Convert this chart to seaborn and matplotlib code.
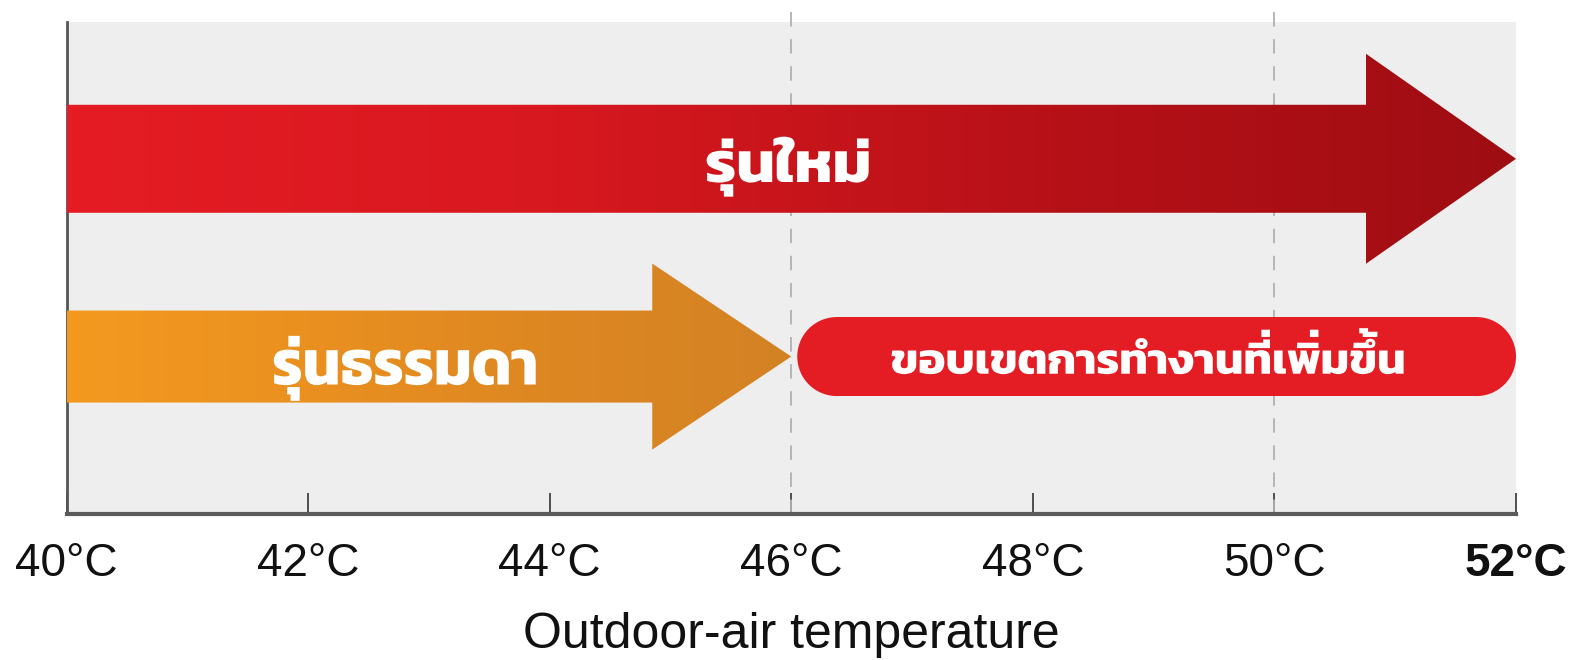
import numpy as np
import matplotlib
matplotlib.use("Agg")
import matplotlib.pyplot as plt
import seaborn as sns
from matplotlib import font_manager
from matplotlib.ft2font import FT2Font
from matplotlib.font_manager import FontProperties
from matplotlib.textpath import text_to_path
from matplotlib.path import Path
from matplotlib.transforms import Affine2D
from matplotlib.patches import Polygon, Rectangle, Ellipse, PathPatch
from matplotlib.colors import LinearSegmentedColormap

# chart data
temps = [40, 42, 44, 46, 48, 50, 52]
tick_labels = ['40°C', '42°C', '44°C', '46°C', '48°C', '50°C', '52°C']
series_names = ['รุ่นใหม่', 'รุ่นธรรมดา']
series_start = [40, 40]
series_end = [52, 46]
extra_start = 46
extra_end = 52
extra_label = 'ขอบเขตการทำงานที่เพิ่มขึ้น'
guide_temps = [46, 50]
x_label = 'Outdoor-air temperature'

PREFERRED = ['Kanit', 'Prompt', 'Noto Sans Thai', 'Sarabun', 'Waree', 'Loma', 'Garuda']
UPPER = set('\u0e31\u0e34\u0e35\u0e36\u0e37\u0e47\u0e4d')
TONES = set('\u0e48\u0e49\u0e4a\u0e4b\u0e4c')


def find_thai_font():
    found = []
    for f in font_manager.fontManager.ttflist:
        try:
            cm = FT2Font(f.fname).get_charmap()
        except Exception:
            continue
        if 0x0E01 in cm and 0x0E23 in cm and 0x0E48 in cm:
            found.append(f)
    if not found:
        return None

    def score(f):
        rank = len(PREFERRED)
        for i, p in enumerate(PREFERRED):
            if f.name == p:
                rank = i
                break
        loop = 'Looped' in f.name or 'Serif' in f.name
        return (-rank, not loop)
    found.sort(key=score, reverse=True)
    return found[0].name


def thai_text_path(s, prop, raise_units=26):
    # lay out glyphs ourselves so stacked tone marks sit above upper vowels
    font = text_to_path._get_font(prop)
    info, gmap, _ = text_to_path.get_glyphs_with_font(font, s)
    verts, codes = [], []
    prev = None
    for ch, (gid, x, y, sc) in zip(s, info):
        v, c = gmap[gid]
        v = np.asarray(v, float)
        if len(v):
            dy = raise_units if (ch in TONES and prev in UPPER) else 0
            verts.append(v * sc + [x, y + dy])
            codes.append(np.asarray(c))
        prev = ch
    return Path(np.concatenate(verts), np.concatenate(codes))


def fit_text(ax, s, xd, ya, w_px, h_px, fallback_size):
    try:
        prop = FontProperties(family=thai_family, weight='bold')
        path = thai_text_path(s, prop)
        ext = path.get_extents()
        cx = ax.transData.transform((xd, 0))[0]
        cy = ax.transAxes.transform((0, ya))[1]
        tr = (Affine2D().translate(-(ext.x0 + ext.x1) / 2, -(ext.y0 + ext.y1) / 2)
              .scale(w_px / ext.width, h_px / ext.height).translate(cx, cy))
        ax.add_patch(PathPatch(path, transform=tr, fc='white', ec='none',
                               zorder=5, clip_on=False))
    except Exception:
        ax.text(xd, ya, s, color='white', ha='center', va='center',
                transform=ax.get_xaxis_transform(), fontsize=fallback_size,
                fontweight='bold', family=thai_family, zorder=5)


sns.set_style('white')
thai_font = find_thai_font()
latin = ['Liberation Sans Narrow', 'Liberation Sans', 'DejaVu Sans']
thai_family = ([thai_font] if thai_font else []) + ['DejaVu Sans']
plt.rcParams['font.family'] = latin

fig = plt.figure(figsize=(15.82, 6.60), dpi=100)
ax = fig.add_axes([66.5 / 1582, 1 - 514 / 660, (1516 - 66.5) / 1582, (514 - 22) / 660])
ax.set_facecolor('#eeeeee')
ax.set_xlim(40, 52)
ax.set_ylim(0, 1)

bbox = ax.get_window_extent()
px_x = bbox.width / 12.0
px_y = bbox.height / 1.0

# dashed guide lines
for g in guide_temps:
    ax.plot([g, g], [0, 1.05], color='#b0b0b0', lw=1.3, ls=(0, (8, 7)),
            clip_on=False, zorder=1)

# arrows (center, half thickness, half head height, head length in px)
arrow_geom = [(0.722, 54, 105, 150), (0.320, 46, 93, 139)]
arrow_cols = [['#e51c24', '#d8181f', '#b81118', '#9e0d12'],
              ['#f4991f', '#ea9020', '#dd8722', '#d38224']]
# label box: x centre (data), y centre (axes), width px, height px
label_box = [(45.97, 0.706, 162, 60), (42.80, 0.296, 262, 65)]

for name, x0, x1, geom, cols, lb in zip(series_names, series_start, series_end,
                                        arrow_geom, arrow_cols, label_box):
    yc, ht, hh, hl = geom
    ht, hh, hl = ht / px_y, hh / px_y, hl / px_x
    pts = [(x0, yc - ht), (x1 - hl, yc - ht), (x1 - hl, yc - hh), (x1, yc),
           (x1 - hl, yc + hh), (x1 - hl, yc + ht), (x0, yc + ht)]
    poly = Polygon(pts, closed=True, fc='none', ec='none', zorder=2)
    ax.add_patch(poly)
    cmap = LinearSegmentedColormap.from_list('g', cols)
    grad = np.linspace(0, 1, 256).reshape(1, -1)
    im = ax.imshow(grad, extent=[x0, x1, yc - hh, yc + hh], aspect='auto',
                   cmap=cmap, zorder=3)
    im.set_clip_path(poly)
    ax.set_xlim(40, 52)
    ax.set_ylim(0, 1)
    fit_text(ax, name, lb[0], lb[1], lb[2], lb[3], 40)

# extra range pill
pill_col = '#e41d25'
box_h = 79 / px_y
box_yc = 0.320
r_x = (box_h * px_y / 2) / px_x
bx0 = extra_start + 6 / px_x
ax.add_patch(Rectangle((bx0 + r_x, box_yc - box_h / 2), extra_end - bx0 - 2 * r_x,
                       box_h, fc=pill_col, ec='none', zorder=4))
for cx in [bx0 + r_x, extra_end - r_x]:
    ax.add_patch(Ellipse((cx, box_yc), 2 * r_x, box_h, fc=pill_col, ec='none',
                         zorder=4))
ax.set_xlim(40, 52)
ax.set_ylim(0, 1)
fit_text(ax, extra_label, 48.95, 0.331, 512, 46, 31)

ax.set_xlim(40, 52)
ax.set_ylim(0, 1)

# axes styling
sns.despine(ax=ax, top=True, right=True)
ax.spines['left'].set_color('#555555')
ax.spines['left'].set_linewidth(2)
ax.spines['bottom'].set_color('#5a5a5a')
ax.spines['bottom'].set_linewidth(3)
ax.set_yticks([])
ax.set_xticks(temps)
ax.set_xticklabels(tick_labels)
ax.tick_params(axis='x', bottom=True, direction='in', length=15, width=1.2,
               color='#333333', pad=20, labelsize=33, labelcolor='#111111')
ax.get_xticklabels()[-1].set_fontweight('bold')
ax.set_xlabel(x_label, fontsize=36, color='#111111', labelpad=19)

fig.savefig('out.png', dpi=100, facecolor='white')
